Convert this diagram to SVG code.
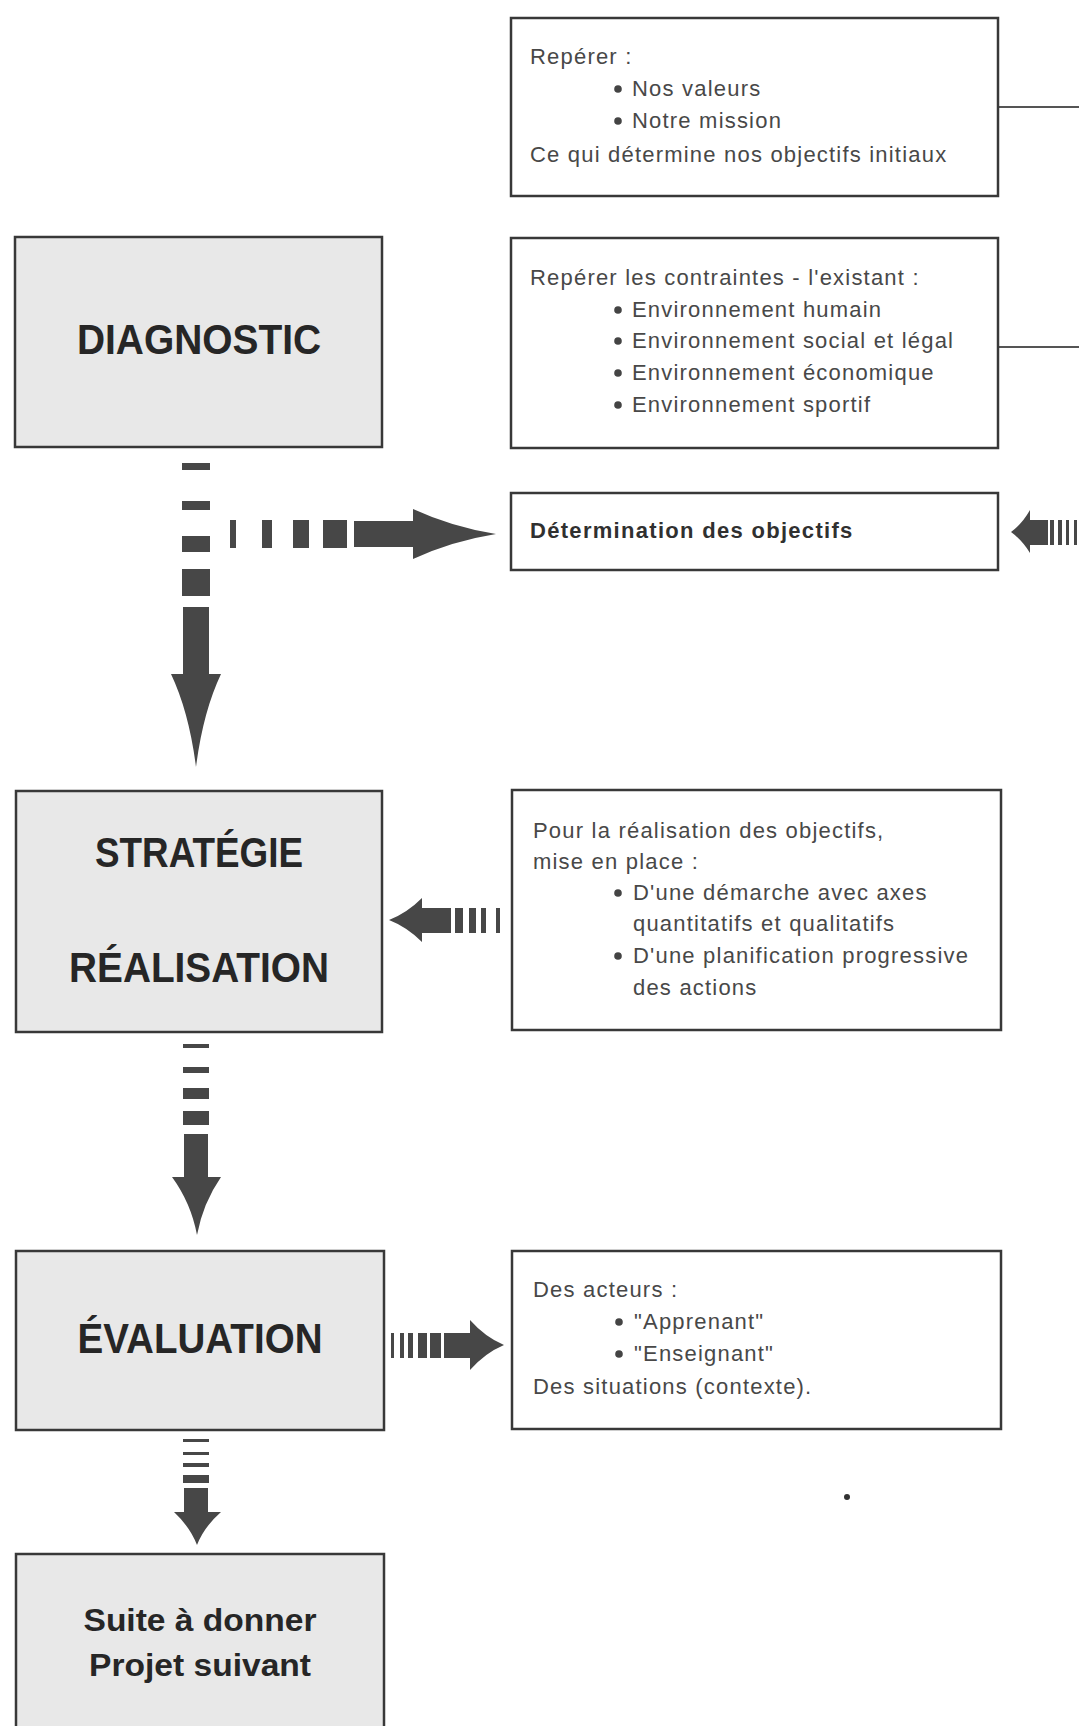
<svg xmlns="http://www.w3.org/2000/svg" width="1079" height="1726" viewBox="0 0 1079 1726">
<defs>
<style>
.stage{fill:#e8e8e8;stroke:#383838;stroke-width:2.5}
.info{fill:#ffffff;stroke:#383838;stroke-width:2.5}
.head{font-family:"Liberation Sans",Arial,sans-serif;font-weight:bold;font-size:42px;fill:#262626;text-anchor:middle}
.sub{font-family:"Liberation Sans",Arial,sans-serif;font-weight:bold;font-size:32px;fill:#262626;text-anchor:middle}
.body{font-family:"Liberation Sans",Arial,sans-serif;font-size:22px;letter-spacing:1.2px;fill:#484848}
.bold{font-family:"Liberation Sans",Arial,sans-serif;font-weight:bold;font-size:22px;letter-spacing:1.3px;fill:#303030}
.ar{fill:#474747}
.ln{stroke:#555555;stroke-width:2;fill:none}
</style>
<circle id="bul" r="3.8" fill="#444444"/>
</defs>
<rect width="1079" height="1726" fill="#ffffff"/>

<g id="connectors">
  <line class="ln" x1="998" y1="107" x2="1079" y2="107"/>
  <line class="ln" x1="998" y1="347" x2="1079" y2="347"/>
  <!-- vertical arrow 1 -->
  <g class="ar">
    <rect x="182" y="463" width="28" height="7"/>
    <rect x="182" y="501" width="28" height="9"/>
    <rect x="182" y="536" width="28" height="16"/>
    <rect x="182" y="569" width="28" height="27"/>
    <rect x="183" y="607" width="26" height="68"/>
    <path d="M171,674 L221,674 Q203,712 196,767 Q189,712 171,674 Z"/>
  </g>
  <!-- horizontal arrow to Détermination -->
  <g class="ar">
    <rect x="230" y="520" width="6" height="28"/>
    <rect x="262" y="520" width="10" height="28"/>
    <rect x="293" y="520" width="16" height="28"/>
    <rect x="323" y="520" width="24" height="28"/>
    <rect x="354" y="521" width="61" height="26"/>
    <path d="M413,509 Q452,527 496,534 Q452,541 413,559 Z"/>
  </g>
  <!-- arrow from right into Détermination -->
  <g class="ar">
    <path d="M1030,510 Q1022,524 1011,532 Q1022,540 1030,553 Z"/>
    <rect x="1029" y="520" width="19" height="25"/>
    <rect x="1050" y="520" width="4" height="25"/>
    <rect x="1058" y="520" width="4" height="25"/>
    <rect x="1066" y="520" width="3" height="25"/>
    <rect x="1074" y="520" width="3" height="25"/>
  </g>
  <!-- arrow into STRATÉGIE -->
  <g class="ar">
    <path d="M422,898 Q407,913 389,920 Q407,927 422,942 Z"/>
    <rect x="421" y="908" width="30" height="25"/>
    <rect x="455" y="908" width="8" height="25"/>
    <rect x="469" y="908" width="7" height="25"/>
    <rect x="481" y="908" width="5" height="25"/>
    <rect x="496" y="908" width="4" height="25"/>
  </g>
  <!-- vertical arrow 2 -->
  <g class="ar">
    <rect x="183" y="1044" width="26" height="4"/>
    <rect x="183" y="1067" width="26" height="6"/>
    <rect x="183" y="1088" width="26" height="11"/>
    <rect x="183" y="1111" width="26" height="14"/>
    <rect x="184" y="1134" width="24" height="44"/>
    <path d="M172,1177 L221,1177 Q203,1203 197,1235 Q191,1203 172,1177 Z"/>
  </g>
  <!-- arrow to Des acteurs -->
  <g class="ar">
    <rect x="391" y="1333" width="3" height="25"/>
    <rect x="400" y="1333" width="4" height="25"/>
    <rect x="408" y="1333" width="5" height="25"/>
    <rect x="418" y="1333" width="9" height="25"/>
    <rect x="430" y="1333" width="11" height="25"/>
    <rect x="444" y="1333" width="28" height="25"/>
    <path d="M470,1320 Q485,1337 504,1345 Q485,1353 470,1370 Z"/>
  </g>
  <!-- vertical arrow 3 -->
  <g class="ar">
    <rect x="183" y="1439" width="26" height="3"/>
    <rect x="183" y="1452" width="26" height="3"/>
    <rect x="183" y="1463" width="26" height="4"/>
    <rect x="183" y="1475" width="26" height="8"/>
    <rect x="184" y="1488" width="24" height="25"/>
    <path d="M174,1512 L221,1512 Q204,1527 197,1545 Q190,1527 174,1512 Z"/>
  </g>
</g>

<g id="diagnostic">
  <rect class="stage" x="15" y="237" width="367" height="210"/>
  <text class="head" x="199" y="354" textLength="244" lengthAdjust="spacingAndGlyphs">DIAGNOSTIC</text>
</g>

<g id="strategie">
  <rect class="stage" x="16" y="791" width="366" height="241"/>
  <text class="head" x="199" y="867" textLength="208" lengthAdjust="spacingAndGlyphs">STRATÉGIE</text>
  <text class="head" x="199" y="982" textLength="260" lengthAdjust="spacingAndGlyphs">RÉALISATION</text>
</g>

<g id="evaluation">
  <rect class="stage" x="16" y="1251" width="368" height="179"/>
  <text class="head" x="200" y="1353" textLength="245" lengthAdjust="spacingAndGlyphs">ÉVALUATION</text>
</g>

<g id="suite">
  <rect class="stage" x="16" y="1554" width="368" height="200"/>
  <text class="sub" x="200" y="1631" textLength="233" lengthAdjust="spacingAndGlyphs">Suite à donner</text>
  <text class="sub" x="200" y="1676" textLength="222" lengthAdjust="spacingAndGlyphs">Projet suivant</text>
</g>

<g id="reperer">
  <rect class="info" x="511" y="18" width="487" height="178"/>
  <text class="body" x="530" y="64">Repérer :</text>
  <use href="#bul" x="618" y="89"/>
  <text class="body" x="632" y="96">Nos valeurs</text>
  <use href="#bul" x="618" y="121"/>
  <text class="body" x="632" y="128">Notre mission</text>
  <text class="body" x="530" y="162">Ce qui détermine nos objectifs initiaux</text>
</g>

<g id="contraintes">
  <rect class="info" x="511" y="238" width="487" height="210"/>
  <text class="body" x="530" y="285">Repérer les contraintes - l'existant :</text>
  <use href="#bul" x="618" y="310"/>
  <text class="body" x="632" y="317">Environnement humain</text>
  <use href="#bul" x="618" y="341"/>
  <text class="body" x="632" y="348">Environnement social et légal</text>
  <use href="#bul" x="618" y="373"/>
  <text class="body" x="632" y="380">Environnement économique</text>
  <use href="#bul" x="618" y="405"/>
  <text class="body" x="632" y="412">Environnement sportif</text>
</g>

<g id="determination">
  <rect class="info" x="511" y="493" width="487" height="77"/>
  <text class="bold" x="530" y="538">Détermination des objectifs</text>
</g>

<g id="realisation">
  <rect class="info" x="512" y="790" width="489" height="240"/>
  <text class="body" x="533" y="838">Pour la réalisation des objectifs,</text>
  <text class="body" x="533" y="869">mise en place :</text>
  <use href="#bul" x="618" y="893"/>
  <text class="body" x="633" y="900">D'une démarche avec axes</text>
  <text class="body" x="633" y="931">quantitatifs et qualitatifs</text>
  <use href="#bul" x="618" y="956"/>
  <text class="body" x="633" y="963">D'une planification progressive</text>
  <text class="body" x="633" y="995">des actions</text>
</g>

<g id="acteurs">
  <rect class="info" x="512" y="1251" width="489" height="178"/>
  <text class="body" x="533" y="1297">Des acteurs :</text>
  <use href="#bul" x="619" y="1322"/>
  <text class="body" x="634" y="1329">"Apprenant"</text>
  <use href="#bul" x="619" y="1354"/>
  <text class="body" x="634" y="1361">"Enseignant"</text>
  <text class="body" x="533" y="1394">Des situations (contexte).</text>
</g>

<circle cx="847" cy="1497" r="3" fill="#333333"/>
</svg>
